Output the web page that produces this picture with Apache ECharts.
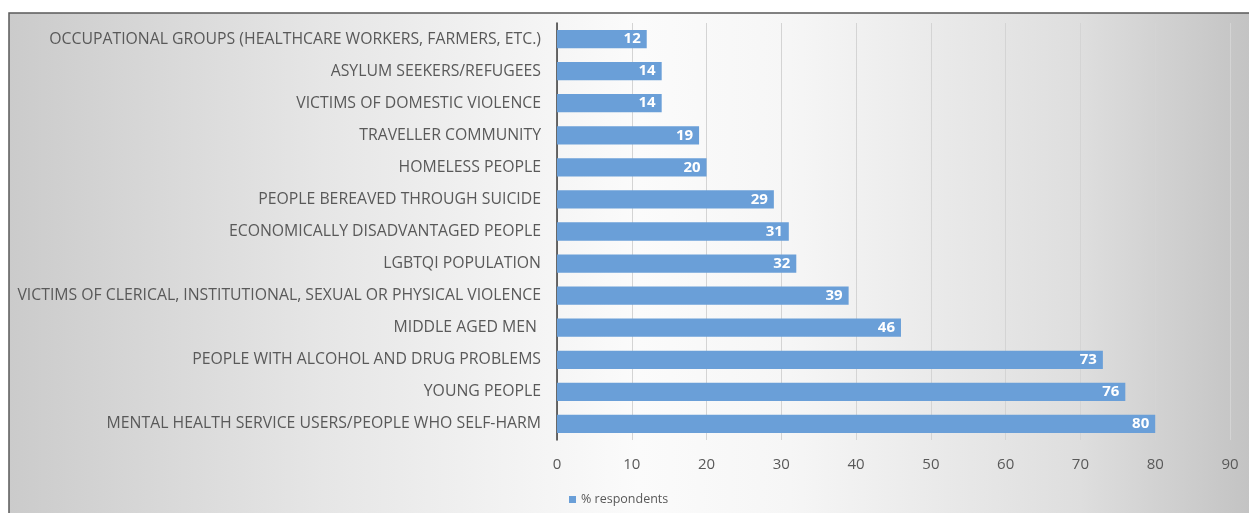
<!DOCTYPE html>
<html>
<head>
<meta charset="utf-8">
<script src="https://cdn.jsdelivr.net/npm/echarts@6/dist/echarts.min.js"></script>
<style>
  html, body { margin: 0; padding: 0; background: #fff; }
  #chart { width: 1249px; height: 513px; }
</style>
</head>
<body>
<div id="chart"></div>
<script>
// categories, top to bottom
const categories = [
    'OCCUPATIONAL GROUPS (HEALTHCARE WORKERS, FARMERS, ETC.)',
    'ASYLUM SEEKERS/REFUGEES',
    'VICTIMS OF DOMESTIC VIOLENCE',
    'TRAVELLER COMMUNITY',
    'HOMELESS PEOPLE',
    'PEOPLE BEREAVED THROUGH SUICIDE',
    'ECONOMICALLY DISADVANTAGED PEOPLE',
    'LGBTQI POPULATION',
    'VICTIMS OF CLERICAL, INSTITUTIONAL, SEXUAL OR PHYSICAL VIOLENCE',
    'MIDDLE AGED MEN ',
    'PEOPLE WITH ALCOHOL AND DRUG PROBLEMS',
    'YOUNG PEOPLE',
    'MENTAL HEALTH SERVICE USERS/PEOPLE WHO SELF-HARM'
]
const respondents = [12, 14, 14, 19, 20, 29, 31, 32, 39, 46, 73, 76, 80]
const seriesName = '% respondents'

const font = 'Open Sans, Liberation Sans, sans-serif'

let chart = echarts.init(document.getElementById('chart'))

let options = {
    backgroundColor: '#ffffff',
    animation: false,
    // framed gradient background like the original
    graphic: [{
        type: 'rect',
        z: -10,
        silent: true,
        shape: { x: 9, y: 13, width: 1260, height: 520 },
        style: {
            fill: new echarts.graphic.LinearGradient(0, 0, 1, 0, [
                { offset: 0, color: '#cbcbcb' },
                { offset: 0.25, color: '#e6e6e6' },
                { offset: 0.5, color: '#fbfbfb' },
                { offset: 0.62, color: '#f6f6f6' },
                { offset: 0.85, color: '#dedede' },
                { offset: 1, color: '#c0c0c0' }
            ]),
            stroke: '#5a5a5a',
            lineWidth: 1.5
        }
    }],
    grid: {
        left: 557,
        right: 19,
        top: 23,
        bottom: 73,
        containLabel: false
    },
    legend: {
        data: [seriesName],
        left: 564,
        top: 488,
        itemWidth: 7,
        itemHeight: 7,
        itemGap: 4,
        icon: 'rect',
        textStyle: { color: '#595959', fontSize: 12.5, fontFamily: font }
    },
    xAxis: {
        type: 'value',
        min: 0,
        max: 90,
        interval: 10,
        axisLine: { show: false },
        axisTick: { show: false },
        axisLabel: { color: '#595959', fontSize: 15, fontFamily: font, margin: 17 },
        splitLine: { lineStyle: { color: '#d4d4d4', width: 1 } }
    },
    yAxis: {
        type: 'category',
        data: categories,
        inverse: true,
        axisLine: { show: true, lineStyle: { color: '#3a3a3a', width: 1.5 } },
        axisTick: { show: false },
        axisLabel: { color: '#595959', fontSize: 15.8, fontFamily: font, margin: 16 }
    },
    series: [{
        name: seriesName,
        type: 'bar',
        data: respondents,
        barCategoryGap: '43%',
        itemStyle: { color: '#6a9fd8' },
        label: {
            show: true,
            position: 'insideRight',
            distance: 6,
            color: '#ffffff',
            fontSize: 15,
            fontWeight: 'bold',
            fontFamily: font
        }
    }]
}

chart.setOption(options)
</script>
</body>
</html>
